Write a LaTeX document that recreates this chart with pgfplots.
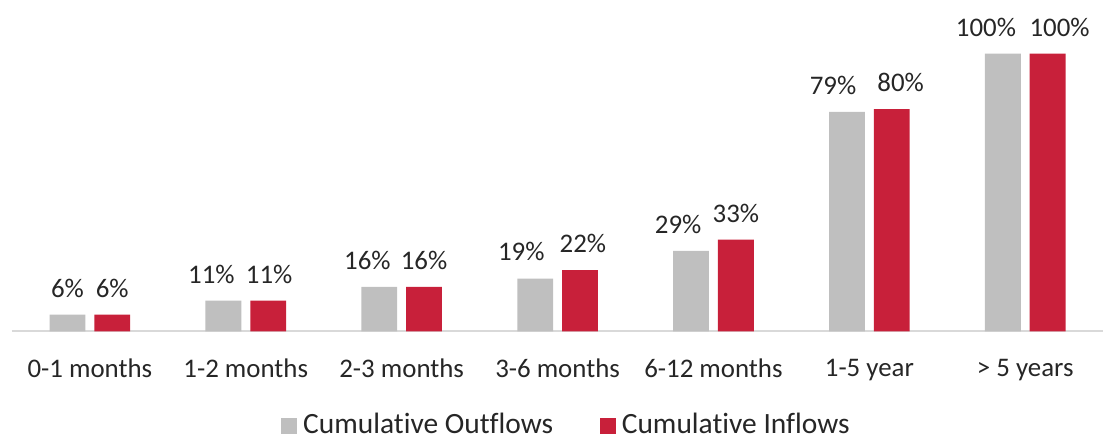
\documentclass[border=0pt]{standalone}
\usepackage{pgfplots}
\pgfplotsset{compat=1.18}
\usepackage{fontspec}
\setmainfont{Carlito}[Ligatures=NoCommon]
\definecolor{outgrey}{HTML}{BFBFBF}
\definecolor{inred}{HTML}{C8203A}
\definecolor{txt}{HTML}{262626}

% x, value, label shift (pt)
\pgfplotstableread{
x y dx
0 6   0
1 11 -6
2 16 -6
3 19 -7
4 29 -6.5
5 79 -7
6 100 -8.5
}\outflows
\pgfplotstableread{
x y dx
0 6   0
1 11  0.5
2 16  0
3 22  1.5
4 33  0
5 80  4.5
6 100 6
}\inflows

\begin{document}
\fontsize{13.5}{16}\selectfont
\begin{tikzpicture}
  \begin{axis}[
    name=ax,
    scale only axis, width=548.5pt, height=139.5pt,
    ybar=4.5pt, bar width=18pt,
    xmin=-0.5, xmax=6.5, ymin=0, ymax=100,
    xtick=data,
    xticklabels={0-1 months,1-2 months,2-3 months,3-6 months,6-12 months,1-5 year,> 5 years},
    axis x line=bottom, axis y line=none,
    axis line style={-, draw=black!15, line width=0.8pt},
    xtick style={draw=none},
    ytick=\empty,
    x tick label style={text=txt, yshift=-7pt},
    clip=false,
    nodes near coords={\pgfmathprintnumber[assume math mode=true]{\pgfplotspointmeta}\%},
    legend style={at={(0.5,-0.34)}, xshift=5pt, anchor=center, draw=none, legend columns=2,
      font=\fontsize{14.8}{17}\selectfont,
      /tikz/every even column/.append style={column sep=21.5pt}, text=txt},
    legend image code/.code={\fill[#1] (0pt,-4pt) rectangle (8pt,4pt); \path (9pt,0pt);},
  ]
    \addplot[fill=outgrey, draw=none,
      visualization depends on={\thisrow{dx} \as \dx},
      every node near coord/.append style={text=txt, yshift=4pt, xshift=\dx pt}]
      table[x=x, y=y] {\outflows};
    \addplot[fill=inred, draw=none,
      visualization depends on={\thisrow{dx} \as \dx},
      every node near coord/.append style={text=txt, yshift=4pt, xshift=\dx pt}]
      table[x=x, y=y] {\inflows};
    \legend{Cumulative Outflows, Cumulative Inflows}
  \end{axis}
  \path[use as bounding box] ([xshift=-6pt,yshift=-52pt]ax.south west) rectangle ([xshift=-2.5pt,yshift=27pt]ax.north east);
\end{tikzpicture}
\end{document}
